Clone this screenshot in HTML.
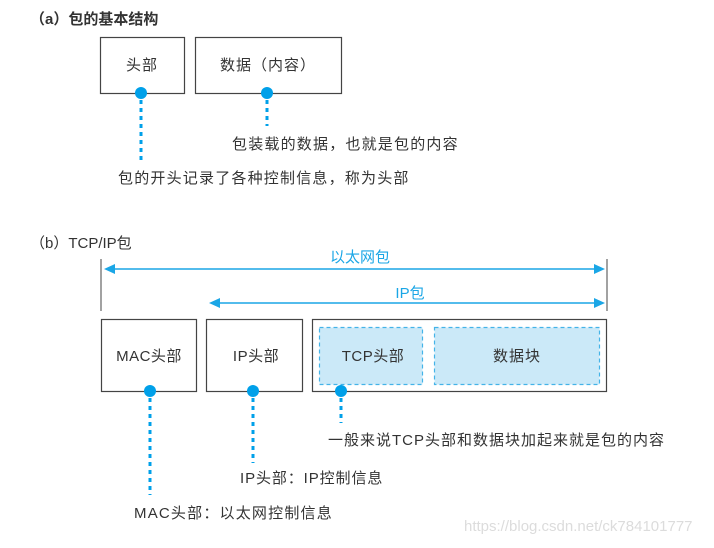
<!DOCTYPE html>
<html><head><meta charset="utf-8"><style>
html,body{margin:0;padding:0;background:#fff;}
svg text{font-family:"Liberation Sans","Noto Sans CJK SC",sans-serif;fill:#333;}
</style></head><body>
<svg width="714" height="543" viewBox="0 0 714 543" xmlns="http://www.w3.org/2000/svg">
<text x="30" y="24" font-size="15" font-weight="bold" fill="#222">（a）包的基本结构</text>
<rect x="100.5" y="37.5" width="84" height="56" fill="#fff" stroke="#444" stroke-width="1.2"/>
<rect x="195.5" y="37.5" width="146" height="56" fill="#fff" stroke="#444" stroke-width="1.2"/>
<text x="142" y="70" font-size="15" text-anchor="middle" letter-spacing="1">头部</text>
<text x="268" y="70" font-size="15" text-anchor="middle" letter-spacing="1">数据（内容）</text>
<g stroke="#00a0e9" stroke-width="3" stroke-dasharray="4,4">
<line x1="141" y1="100" x2="141" y2="161"/>
<line x1="267" y1="100" x2="267" y2="126"/>
<line x1="150" y1="398" x2="150" y2="495"/>
<line x1="253" y1="398" x2="253" y2="463"/>
<line x1="341" y1="398" x2="341" y2="423"/>
</g>
<g fill="#00a0e9">
<circle cx="141" cy="93" r="6"/><circle cx="267" cy="93" r="6"/>
</g>
<text x="232" y="149" font-size="15" letter-spacing="1.2">包装载的数据，也就是包的内容</text>
<text x="118" y="183" font-size="15" letter-spacing="1.2">包的开头记录了各种控制信息，称为头部</text>

<text x="30" y="248" font-size="15" fill="#222">（b）TCP/IP包</text>
<line x1="101" y1="259" x2="101" y2="311" stroke="#444" stroke-width="1"/>
<line x1="607" y1="259" x2="607" y2="311" stroke="#444" stroke-width="1"/>
<g stroke="#1aa6e6" stroke-width="1.5"><line x1="110" y1="269" x2="598" y2="269"/><line x1="216" y1="303" x2="598" y2="303"/></g>
<g fill="#1aa6e6">
<polygon points="104,269 115,264 115,274"/><polygon points="605,269 594,264 594,274"/>
<polygon points="209,303 220,298 220,308"/><polygon points="605,303 594,298 594,308"/>
</g>
<text x="360" y="262" font-size="15" text-anchor="middle" style="fill:#1aa6e6">以太网包</text>
<text x="410" y="298" font-size="15" text-anchor="middle" style="fill:#1aa6e6">IP包</text>

<rect x="101.5" y="319.5" width="95" height="72" fill="#fff" stroke="#444" stroke-width="1.2"/>
<rect x="206.5" y="319.5" width="96" height="72" fill="#fff" stroke="#444" stroke-width="1.2"/>
<rect x="312.5" y="319.5" width="294" height="72" fill="#fff" stroke="#444" stroke-width="1.2"/>
<rect x="319.5" y="327.5" width="103" height="57" fill="#cbe9f8" stroke="#44b3e8" stroke-width="1.2" stroke-dasharray="4,3"/>
<rect x="434.5" y="327.5" width="165" height="57" fill="#cbe9f8" stroke="#44b3e8" stroke-width="1.2" stroke-dasharray="4,3"/>
<text x="149" y="361" font-size="15" text-anchor="middle" letter-spacing="0.5">MAC头部</text>
<text x="256" y="361" font-size="15" text-anchor="middle" letter-spacing="0.5">IP头部</text>
<text x="373" y="361" font-size="15" text-anchor="middle" letter-spacing="0.5">TCP头部</text>
<text x="517" y="361" font-size="15" text-anchor="middle" letter-spacing="1">数据块</text>
<g fill="#00a0e9"><circle cx="150" cy="391" r="6"/><circle cx="253" cy="391" r="6"/><circle cx="341" cy="391" r="6"/></g>
<text x="328" y="445" font-size="15" letter-spacing="1">一般来说TCP头部和数据块加起来就是包的内容</text>
<text x="240" y="483" font-size="15" letter-spacing="0.9">IP头部：IP控制信息</text>
<text x="134" y="518" font-size="15" letter-spacing="1.2">MAC头部：以太网控制信息</text>
<text x="464" y="531" font-size="15" style="fill:#dcdcdc">https://blog.csdn.net/ck784101777</text>
</svg>
</body></html>
